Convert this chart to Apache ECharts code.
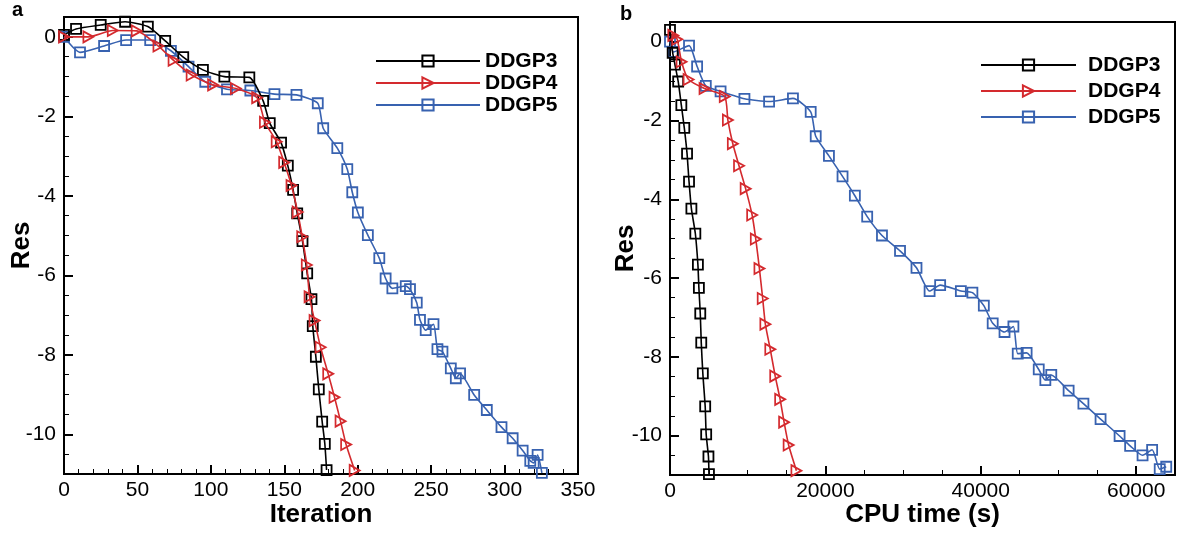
<!DOCTYPE html>
<html>
<head>
<meta charset="utf-8">
<script src="https://cdn.jsdelivr.net/npm/echarts@6/dist/echarts.min.js"></script>
<style>
html,body{margin:0;padding:0;background:#fff;}
#chart{width:1178px;height:533px;}
</style>
</head>
<body>
<div id="chart"></div>
<script>
// ---- Data ----
const seriesNames = ['DDGP3', 'DDGP4', 'DDGP5'];

// Panel a: Iteration vs Res
const iterDDGP3 = [[0,0.05],[8.2,0.2],[25,0.3],[41.6,0.38],[57.1,0.26],[68.9,-0.1],[81.2,-0.51],[94.6,-0.83],[109.2,-1.0],[126.2,-1.02],[135.6,-1.61],[140.1,-2.17],[147.8,-2.66],[152.4,-3.24],[156,-3.85],[158.8,-4.44],[162.4,-5.14],[165.6,-5.95],[168.5,-6.6],[169.4,-7.28],[171.5,-8.05],[173.5,-8.87],[175.8,-9.68],[177.6,-10.24],[178.8,-10.9]];
const iterDDGP4 = [[0,0],[16.6,0],[33.2,0.16],[49.5,0.15],[64.3,-0.23],[74.6,-0.59],[86.9,-0.96],[101.5,-1.21],[117,-1.3],[131.5,-1.53],[136.8,-2.15],[144.8,-2.64],[149.9,-3.16],[154.9,-3.74],[159.1,-4.41],[162.2,-5.03],[165.3,-5.74],[167.2,-6.54],[170.6,-7.14],[174.7,-7.81],[179.9,-8.48],[184.2,-9.07],[188.3,-9.67],[192.1,-10.26],[197.9,-10.91]];
const iterDDGP5 = [[0,0],[10.9,-0.39],[27.3,-0.23],[42.3,-0.08],[58.7,-0.08],[72.8,-0.35],[84.8,-0.75],[96.2,-1.13],[111,-1.32],[126.9,-1.35],[143.3,-1.44],[158.3,-1.46],[172.8,-1.67],[176.5,-2.3],[186.1,-2.8],[192.9,-3.33],[196.3,-3.91],[200.1,-4.42],[206.9,-4.99],[214.7,-5.57],[219,-6.08],[223.6,-6.33],[232.7,-6.27],[235.6,-6.35],[240.2,-6.69],[242.4,-7.12],[246.3,-7.38],[251.6,-7.23],[254.3,-7.86],[257.7,-7.92],[263.4,-8.34],[266.8,-8.59],[269.7,-8.47],[279.3,-9.01],[287.9,-9.39],[297.9,-9.82],[305.5,-10.1],[312.3,-10.41],[317.5,-10.67],[319.8,-10.72],[322.5,-10.52],[325.4,-10.97]];

// Panel b: CPU time (s) vs Res
const cpuDDGP3 = [[0,0.3],[343,-0.28],[635,-0.58],[1053,-1.01],[1459,-1.61],[1840,-2.19],[2195,-2.84],[2449,-3.55],[2754,-4.24],[3261,-4.87],[3591,-5.66],[3718,-6.25],[3896,-6.9],[4023,-7.64],[4226,-8.42],[4530,-9.26],[4657,-9.97],[4949,-10.53],[5013,-10.98]];
const cpuDDGP4 = [[420,0.16],[926,0.06],[1485,-0.51],[2386,-0.96],[4442,-1.19],[7043,-1.39],[7449,-1.99],[8084,-2.59],[8883,-3.15],[9734,-3.73],[10571,-4.4],[11041,-5.01],[11510,-5.76],[11929,-6.52],[12272,-7.17],[12906,-7.81],[13541,-8.49],[14175,-9.08],[14683,-9.66],[15266,-10.24],[16269,-10.89]];
const cpuDDGP5 = [[0,0],[440,-0.26],[2449,-0.1],[3490,-0.63],[4607,-1.12],[6510,-1.26],[9581,-1.45],[12754,-1.52],[15825,-1.44],[18109,-1.78],[18756,-2.4],[20457,-2.9],[22208,-3.42],[23794,-3.91],[25381,-4.44],[27284,-4.92],[29607,-5.31],[31726,-5.74],[33414,-6.33],[34772,-6.18],[37437,-6.33],[38921,-6.37],[40393,-6.7],[41536,-7.15],[43058,-7.37],[44201,-7.23],[44759,-7.92],[45901,-7.9],[47462,-8.32],[48312,-8.59],[49074,-8.46],[51307,-8.86],[53211,-9.19],[55419,-9.58],[57868,-10.01],[59226,-10.26],[60825,-10.5],[62056,-10.36],[63033,-10.85],[63871,-10.79]];

// Tick values
const resMajorTicks = [0,-2,-4,-6,-8,-10];
const resMinorTicks = [-0.5,-1,-1.5,-2.5,-3,-3.5,-4.5,-5,-5.5,-6.5,-7,-7.5,-8.5,-9,-9.5,-10.5];

// ---- Styling ----
const colors = {DDGP3:'#000000', DDGP4:'#d42a2e', DDGP5:'#3862b0'};
const symbols = {DDGP3:'rect', DDGP4:'path://M0,0L12,6L0,12Z', DDGP5:'rect'};
const FONT = '"Liberation Sans", Arial, Helvetica, sans-serif';

function mkSeries(name, data, xi, yi) {
  const c = colors[name];
  return {
    name: name, type: 'line', xAxisIndex: xi, yAxisIndex: yi,
    data: data, smooth: 0.2,
    symbol: symbols[name], symbolSize: name === 'DDGP4' ? [10, 11] : 10,
    showAllSymbol: true,
    lineStyle: {color: c, width: 1.6},
    itemStyle: {color: 'rgba(255,255,255,0)', borderColor: c, borderWidth: 1.8},
    emphasis: {disabled: true},
    animation: false, z: name === 'DDGP3' ? 3 : (name === 'DDGP4' ? 4 : 2)
  };
}

function xAx(grid, min, max, interval, minorSplit, name, gap) {
  return {
    gridIndex: grid, type: 'value', min: min, max: max, interval: interval,
    name: name, nameLocation: 'middle', nameGap: gap, nameMoveOverlap: false,
    nameTextStyle: {fontSize: 26, fontWeight: 'bold', color: '#000', fontFamily: FONT},
    axisLine: {show: true, onZero: false, lineStyle: {color: '#000', width: 2}},
    axisTick: {show: true, inside: true, length: 9, lineStyle: {color: '#000', width: 2}},
    minorTick: {show: true, splitNumber: minorSplit, length: 5, lineStyle: {color: '#000', width: 1}},
    axisLabel: {fontSize: 21, color: '#000', margin: 6, fontFamily: FONT,
      formatter: function (v) { return (v % interval === 0) ? String(v) : ''; }},
    splitLine: {show: false}, minorSplitLine: {show: false}
  };
}
function yMajor(grid, gap) {
  return {
    gridIndex: grid, type: 'value', min: -11, max: 0.5, position: 'left',
    name: 'Res', nameLocation: 'middle', nameGap: gap, nameRotate: 90, nameMoveOverlap: false,
    nameTextStyle: {fontSize: 26, fontWeight: 'bold', color: '#000', fontFamily: FONT},
    axisLine: {show: true, onZero: false, lineStyle: {color: '#000', width: 2}},
    axisTick: {show: true, inside: true, length: 9, customValues: resMajorTicks, lineStyle: {color: '#000', width: 2}},
    axisLabel: {show: true, customValues: resMajorTicks, fontSize: 21, color: '#000', margin: 8, fontFamily: FONT},
    splitLine: {show: false}
  };
}
function yMinor(grid) {
  return {
    gridIndex: grid, type: 'value', min: -11, max: 0.5, position: 'left', offset: 0,
    axisLine: {show: false},
    axisTick: {show: true, inside: true, length: 5, customValues: resMinorTicks, lineStyle: {color: '#000', width: 1}},
    axisLabel: {show: false}, splitLine: {show: false}
  };
}

const legendText = {fontSize: 21, fontWeight: 'bold', color: '#000', fontFamily: FONT, lineHeight: 22};

const option = {
  backgroundColor: '#fff',
  animation: false,
  textStyle: {fontFamily: FONT},
  grid: [
    {left: 64, top: 17, width: 514, height: 457, show: true, borderColor: '#000', borderWidth: 2, backgroundColor: 'transparent'},
    {left: 670, top: 22, width: 512, height: 456, show: true, borderColor: '#000', borderWidth: 2, backgroundColor: 'transparent'}
  ],
  xAxis: [
    xAx(0, 0, 350, 50, 5, 'Iteration', 28),
    xAx(1, 0, 65000, 20000, 4, 'CPU time (s)', 27)
  ],
  yAxis: [yMajor(0, 29), yMinor(0), yMajor(1, 31), yMinor(1)],
  legend: [
    {data: seriesNames, orient: 'vertical', left: 370, top: 45, itemWidth: 104, itemHeight: 14, itemGap: 0,
     textStyle: Object.assign({}, legendText, {padding: [0, 0, 0, 0]}), selectedMode: false},
    {data: seriesNames, orient: 'vertical', left: 975, top: 49, itemWidth: 95, itemHeight: 14, itemGap: 4,
     textStyle: Object.assign({}, legendText, {padding: [0, 0, 0, 7]}), selectedMode: false}
  ],
  graphic: [
    {type: 'text', left: 12, top: 0, style: {text: 'a', font: 'bold 20px ' + FONT, fill: '#000'}},
    {type: 'text', left: 620, top: 4, style: {text: 'b', font: 'bold 20px ' + FONT, fill: '#000'}}
  ],
  series: [
    mkSeries('DDGP3', iterDDGP3, 0, 0),
    mkSeries('DDGP4', iterDDGP4, 0, 0),
    mkSeries('DDGP5', iterDDGP5, 0, 0),
    mkSeries('DDGP3', cpuDDGP3, 1, 2),
    mkSeries('DDGP4', cpuDDGP4, 1, 2),
    mkSeries('DDGP5', cpuDDGP5, 1, 2)
  ]
};

const chart = echarts.init(document.getElementById('chart'), null, {renderer: 'canvas'});
chart.setOption(option);
</script>
</body>
</html>
